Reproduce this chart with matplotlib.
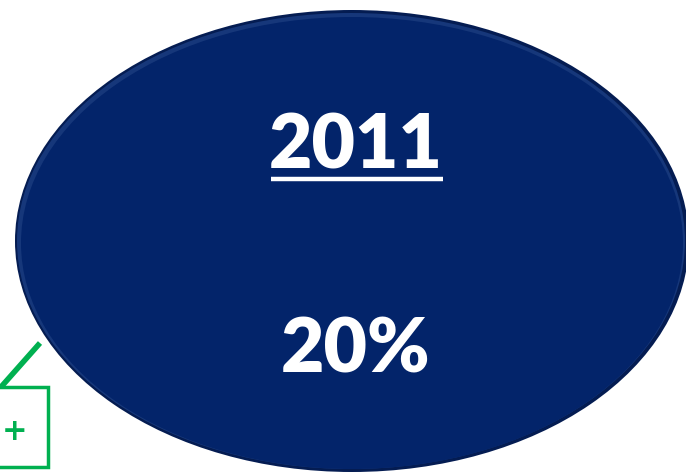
import matplotlib
matplotlib.use("Agg")
import matplotlib.pyplot as plt
from matplotlib.patches import Ellipse, Rectangle

# Values shown in the picture
year_labels = ["2011"]
share_values = [20]

navy = "#03246a"
green = "#00b050"

fig = plt.figure(figsize=(6.86, 4.73), dpi=100)
ax = fig.add_axes([0, 0, 1, 1])
ax.set_xlim(0, 686)
ax.set_ylim(473, 0)
ax.axis("off")

# main ellipse with a soft bevel
ax.add_patch(Ellipse((352, 241), 674, 462, facecolor="#041c52", edgecolor="none"))
ax.add_patch(Ellipse((351, 241), 668, 456, facecolor="#16377a", edgecolor="none"))
ax.add_patch(Ellipse((352, 243), 662, 452, facecolor=navy, edgecolor="none"))

# year label with underline
ax.text(356, 146, year_labels[0], color="white", fontsize=54, fontweight="heavy",
        family="Lato", ha="center", va="center")
ax.plot([271, 443], [179.5, 179.5], color="white", lw=3.2, solid_capstyle="butt")

# share value
ax.text(356, 350, f"{share_values[0]}%", color="white", fontsize=54, fontweight="heavy",
        family="Lato", ha="center", va="center")

# green marker in the lower-left corner
ax.plot([40, 1], [343, 387], color=green, lw=4, solid_capstyle="butt")
ax.add_patch(Rectangle((-2, 387), 50, 80, facecolor="none", edgecolor=green, lw=2.5))
ax.text(15, 431, "+", color=green, fontsize=22, fontweight="bold",
        family="DejaVu Sans", ha="center", va="center")

fig.savefig("out.png", dpi=100)
